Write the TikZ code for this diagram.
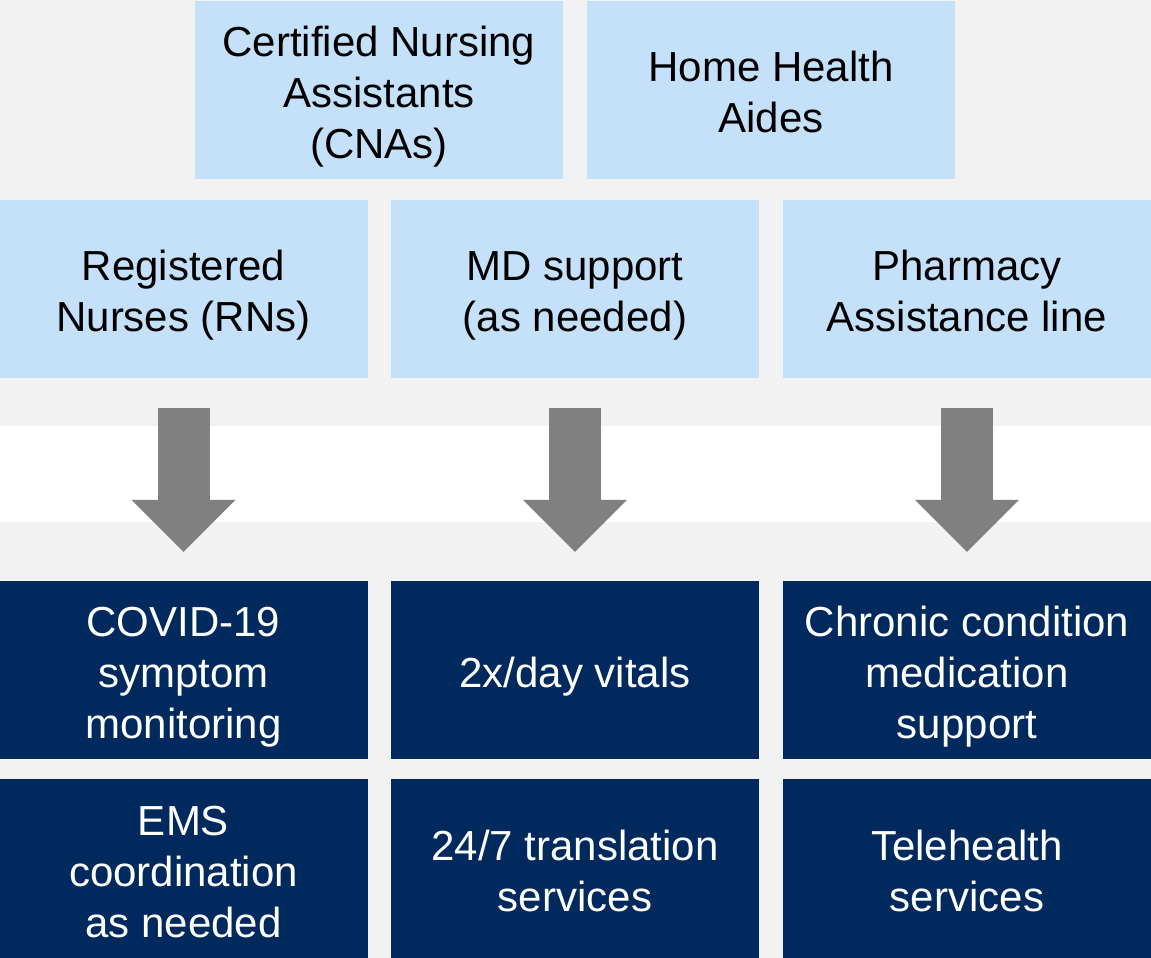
\documentclass[tikz,border=0pt]{standalone}
\usepackage{fontspec}
\setmainfont{Liberation Sans}
\usetikzlibrary{arrows.meta}
\definecolor{paleblue}{HTML}{C5E0F9}
\definecolor{navyblue}{HTML}{002A5E}
\definecolor{arrowgray}{HTML}{808080}
\definecolor{backgray}{HTML}{F2F2F2}
% fixed first/last line heights, so every box sets its lines alike
\newcommand\tl{\rule{0pt}{49pt}}
\newcommand\bl{\rule[-15pt]{0pt}{15pt}}

\begin{document}
\begin{tikzpicture}[x=1pt,y=-1pt,
  box/.style={minimum width=368pt,minimum height=178pt,inner sep=0pt,align=center,
    font=\fontsize{42}{51}\selectfont},
  staff/.style={box,fill=paleblue,text=black},
  service/.style={box,fill=navyblue,text=white},
  bigarrow/.style={draw=arrowgray,line width=52pt,
    -{Triangle[width=104pt,length=52pt,line width=0pt]}}]
% background
\fill[backgray] (0,0) rectangle (1151,958);
\fill[white] (0,426) rectangle (1151,522);
\useasboundingbox (0,0) rectangle (1151,958);
% top row
\node[staff] (cna) at (379,90) {\tl Certified Nursing\\Assistants\\(CNAs)\bl};
\node[staff] (hha) at (771,90) {\tl Home Health\\Aides\bl};
% second row
\node[staff] (rn)  at (183.5,289) {\tl Registered\\Nurses (RNs)\bl};
\node[staff] (md)  at (575,289)   {\tl MD support\\(as needed)\bl};
\node[staff] (pha) at (967,289)   {\tl Pharmacy\\Assistance line\bl};
% services
\node[service] (covid) at (183.5,670) {\tl COVID-19\\symptom\\monitoring\bl};
\node[service] (vital) at (575,670)   {\tl 2x/day vitals\bl};
\node[service] (chron) at (967,670)   {\tl Chronic condition\\medication\\support\bl};
\node[service,minimum height=180pt] (ems)   at (183.5,869) {\tl EMS\\coordination\\as needed\bl};
\node[service,minimum height=180pt] (trans) at (575,869)   {\tl 24/7 translation\\services\bl};
\node[service,minimum height=180pt] (tele)  at (967,869)   {\tl Telehealth\\services\bl};
% arrows
\draw[bigarrow] ([yshift=-30pt]rn.south)  -- ([yshift=29pt]covid.north);
\draw[bigarrow] ([yshift=-30pt]md.south)  -- ([yshift=29pt]vital.north);
\draw[bigarrow] ([yshift=-30pt]pha.south) -- ([yshift=29pt]chron.north);
\end{tikzpicture}
\end{document}
